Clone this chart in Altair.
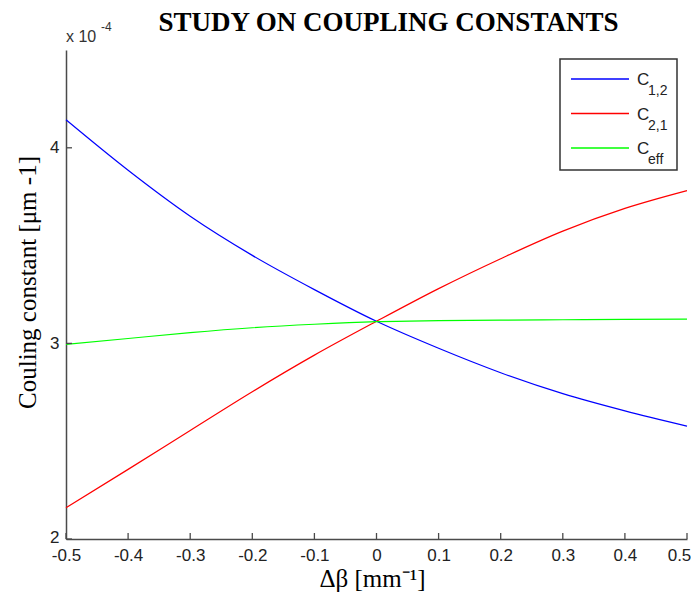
import altair as alt
import pandas as pd

# ---- data (values in units of 1e-4 um^-1) ----
DELTA_BETA = [-0.5, -0.4, -0.3, -0.2, -0.1, 0.0, 0.1, 0.2, 0.3, 0.4, 0.5]
C12 = [4.143, 3.885, 3.650, 3.450, 3.275, 3.113, 2.975, 2.850, 2.743, 2.655, 2.577]
C21 = [2.160, 2.356, 2.555, 2.753, 2.940, 3.113, 3.280, 3.433, 3.574, 3.690, 3.781]
CEFF = [2.995, 3.025, 3.055, 3.080, 3.098, 3.111, 3.116, 3.119, 3.121, 3.123, 3.124]
SERIES = ["C12", "C21", "Ceff"]
SUBSCRIPTS = ["1,2", "2,1", "eff"]
COLORS = ["#0000ff", "#ff0000", "#00ff00"]
X_TICKS = [-0.5, -0.4, -0.3, -0.2, -0.1, 0.0, 0.1, 0.2, 0.3, 0.4, 0.5]
Y_TICKS = [2, 3, 4]

rows = []
for name, vals in zip(SERIES, [C12, C21, CEFF]):
    for x, v in zip(DELTA_BETA, vals):
        rows.append({"db": x, "c": v, "series": name})
df = pd.DataFrame(rows)

W, H = 621, 489
AXIS_COLOR = "#4a4a4a"
xscale = alt.Scale(domain=[-0.5, 0.5], nice=False, zero=False)
yscale = alt.Scale(domain=[2, 4.5], nice=False, zero=False)

x_axis = alt.Axis(
    values=X_TICKS,
    labelExpr="replace(format(datum.value, '~g'), '\u2212', '-')",
    title="Δβ [mm⁻¹]",
    titleFont="Liberation Serif", titleFontSize=25, titleFontWeight="normal",
    titleColor="black", titleX=306, titleY=47, titleBaseline="alphabetic",
    ticks=False, tickSize=0, grid=False,
    domainColor=AXIS_COLOR, domainWidth=1.5,
    labelFont="Liberation Sans", labelFontSize=17, labelColor="#222222",
    labelPadding=8, labelFlush=False, labelOverlap=False,
    labelOffset={"condition": {"test": "datum.value >= 0.45", "value": -8}, "value": 0},
)
y_axis = alt.Axis(
    values=Y_TICKS,
    labelExpr="format(datum.value, 'd')",
    title="Couling constant [μm -1]",
    titleFont="Liberation Serif", titleFontSize=25, titleFontWeight="normal",
    titleColor="black", titleX=-39, titleY=232, titleAngle=270,
    titleAlign="center", titleBaseline="middle",
    ticks=False, tickSize=0, grid=False,
    domainColor=AXIS_COLOR, domainWidth=1.5,
    labelFont="Liberation Sans", labelFontSize=17, labelColor="#222222",
    labelPadding=7, labelFlush=False, labelOverlap=False,
    labelBaseline="middle",
    labelOffset={"condition": {"test": "datum.value <= 2", "value": -2}, "value": 0},
)

lines = alt.Chart(df).mark_line(strokeWidth=1.2, interpolate="monotone").encode(
    x=alt.X("db:Q", scale=xscale, axis=x_axis),
    y=alt.Y("c:Q", scale=yscale, axis=y_axis),
    color=alt.Color("series:N", scale=alt.Scale(domain=SERIES, range=COLORS), legend=None),
)

# inward ticks (MATLAB style), sharing the fields of the line layer
xticks = alt.Chart(pd.DataFrame({"db": X_TICKS})).mark_rule(color=AXIS_COLOR, strokeWidth=1.3).encode(
    x=alt.X("db:Q", scale=xscale),
    y=alt.value(H), y2=alt.value(H - 6),
)
yticks = alt.Chart(pd.DataFrame({"c": Y_TICKS})).mark_rule(color=AXIS_COLOR, strokeWidth=1.3).encode(
    y=alt.Y("c:Q", scale=yscale),
    x=alt.value(0), x2=alt.value(6),
)

one = pd.DataFrame({"a": [0]})

# exponent label
exp_base = alt.Chart(one).mark_text(
    text="x 10", align="left", baseline="alphabetic",
    font="Liberation Sans", fontSize=16, color="#333333",
).encode(x=alt.value(0), y=alt.value(-8))
exp_pow = alt.Chart(one).mark_text(
    text="-4", align="left", baseline="alphabetic",
    font="Liberation Sans", fontSize=12, color="#333333",
).encode(x=alt.value(35), y=alt.value(-19))

# legend
legend_layers = [
    alt.Chart(one).mark_rect(fill="white", stroke="#333333", strokeWidth=1.5).encode(
        x=alt.value(494), x2=alt.value(611), y=alt.value(9), y2=alt.value(120)
    )
]
for i, (col, sub) in enumerate(zip(COLORS, SUBSCRIPTS)):
    ly = 29 + i * 34.5
    legend_layers.append(
        alt.Chart(one).mark_rule(color=col, strokeWidth=1.3).encode(
            x=alt.value(505), x2=alt.value(563), y=alt.value(ly)
        )
    )
    legend_layers.append(
        alt.Chart(one).mark_text(
            text="C", align="left", baseline="alphabetic",
            font="Liberation Sans", fontSize=17, color="#222222",
        ).encode(x=alt.value(571), y=alt.value(ly + 6))
    )
    legend_layers.append(
        alt.Chart(one).mark_text(
            text=sub, align="left", baseline="alphabetic",
            font="Liberation Sans", fontSize=14, color="#222222",
        ).encode(x=alt.value(582), y=alt.value(ly + 16))
    )

chart = alt.layer(
    lines, xticks, yticks, exp_base, exp_pow, *legend_layers
).properties(
    width=W, height=H,
    title=alt.TitleParams(
        "STUDY ON COUPLING CONSTANTS",
        font="Liberation Serif", fontSize=27, fontWeight="bold", color="black",
        anchor="middle", frame="group", dx=12, dy=24, offset=8,
    ),
    autosize=alt.AutoSizeParams(type="none"),
    padding={"left": 58, "top": 42, "right": 4, "bottom": 53},
    background="white",
).configure_view(stroke=None)

chart.save("out.html", embed_options={"renderer": "svg", "actions": False})
